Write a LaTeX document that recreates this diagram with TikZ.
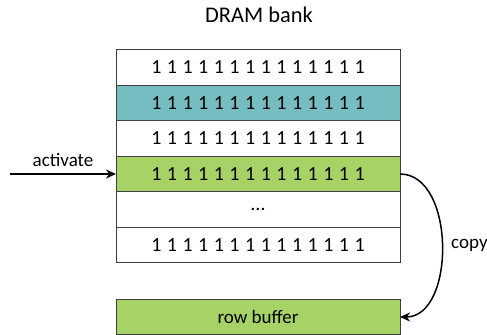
\documentclass[tikz,border=0pt]{standalone}
\usepackage{fontspec}
\setmainfont{Carlito}
\usetikzlibrary{arrows.meta}
\definecolor{rowteal}{RGB}{118,189,193}
\definecolor{rowgreen}{RGB}{166,210,102}
\tikzset{
  row/.style={draw=black!75,line width=0.5pt,minimum width=142pt,minimum height=17.75pt,
    inner sep=0pt,outer sep=0pt,font=\fontsize{10}{12}\selectfont},
  link/.style={line width=0.75pt,-{Stealth[length=5pt,width=4.5pt]}}
}
\newcommand{\bits}{\spaceskip=2.75pt\relax 1 1 1 1 1 1 1 1 1 1 1 1 1 1}
\begin{document}
\begin{tikzpicture}[x=0.5pt,y=0.5pt,font=\fontsize{9.5}{11}\selectfont]
                \useasboundingbox (0,0) rectangle (487,-335);
                \node[font=\fontsize{11.2}{13}\selectfont] (title) at (259,-15) {DRAM bank};
                \node[row] (r1) at (258,-67.5) {\bits};
                \node[row,fill=rowteal] (r2) at (258,-103) {\bits};
                \node[row] (r3) at (258,-138.5) {\bits};
                \node[row,fill=rowgreen] (r4) at (258,-174) {\bits};
                \node[row] (r5) at (258,-209.5) {\dots};
                \node[row] (r6) at (258,-245) {\bits};
                \node[row,fill=rowgreen,font=\fontsize{9.5}{11}\selectfont] (buf) at (258,-317) {row buffer};
                \coordinate (src) at (10,-174);
                \draw[link] (src) -- (r4.west) node[midway,above] {activate};
                \draw[link] (r4.east) to[out=0,in=0] node[midway,right=1pt] {copy} (buf.east);
              \end{tikzpicture}
\end{document}
